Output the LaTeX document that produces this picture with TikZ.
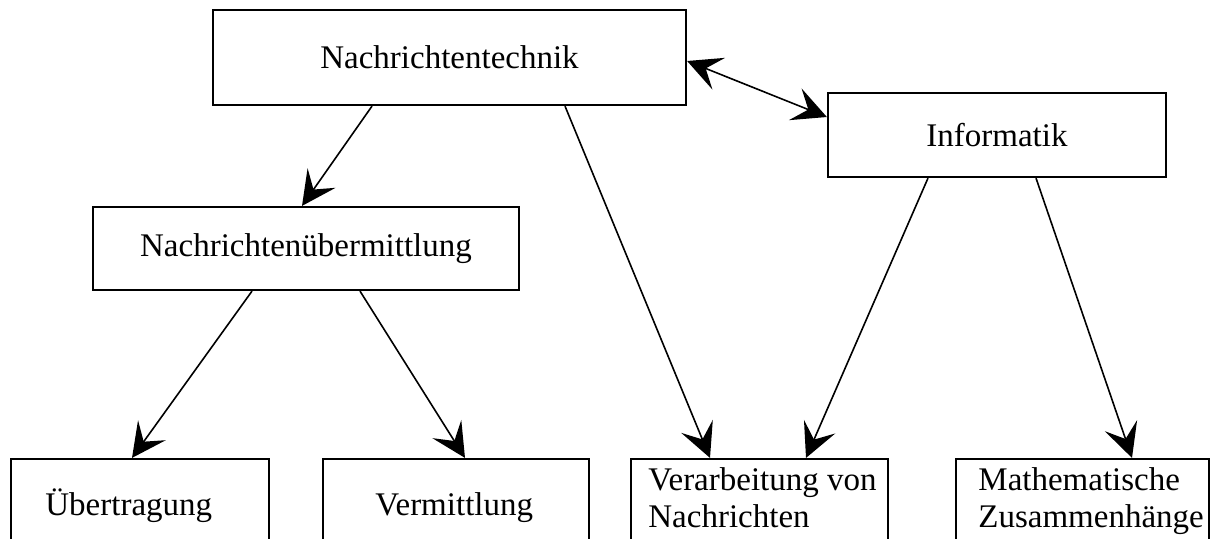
\documentclass[tikz,border=0pt]{standalone}
\usepackage{fontspec}
\setmainfont{Liberation Serif}
\usetikzlibrary{arrows.meta}
\begin{document}
\begin{tikzpicture}[x=0.5pt,y=-0.5pt,
  every node/.style={font=\fontsize{16.5}{18.5}\selectfont},
  box/.style={draw,line width=1.1pt,rectangle,inner sep=0pt},
  lbl/.style={inner sep=0pt,anchor=base west,align=left},
  tip/.tip={Stealth[length=17pt,width=17pt,inset=7pt,line width=1.2pt]},
  conn/.style={line width=0.8pt,-tip},
  dconn/.style={line width=0.8pt,tip-tip}]
\useasboundingbox (0,0) rectangle (1215,538);
\clip (0,0) rectangle (1215,538);
% top boxes
\node[box,minimum width=236.5pt,minimum height=47.5pt] (NT) at (449.5,57.5) {Nachrichtentechnik};
\node[box,minimum width=169pt,minimum height=42pt] (Inf) at (997,135) {Informatik};
\node[box,minimum width=213pt,minimum height=41.5pt] (NU) at (306,248.5) {Nachrichtenübermittlung};
% bottom boxes (open below the page edge)
\node[box,minimum width=129pt,minimum height=70.5pt] (Ub) at (140,529.5) {};
\node[box,minimum width=133pt,minimum height=70.5pt] (Ve) at (456,529.5) {};
\node[box,minimum width=128.5pt,minimum height=70.5pt] (Va) at (759.5,529.5) {};
\node[box,minimum width=126.5pt,minimum height=70.5pt] (Ma) at (1082.5,529.5) {};
% bottom texts
\node[lbl] (tUb) at (45,515) {Übertragung};
\node[lbl] (tVe) at (375,515) {Vermittlung};
\node[lbl] (tVa) at (648,527) {Verarbeitung von\\Nachrichten};
\node[lbl] (tMa) at (978,527) {Mathematische\\Zusammenhänge};
% connectors
\draw[conn] (372,0 |- NT.south) -- (302,0 |- NU.north);
\draw[conn] (252,0 |- NU.south) -- (132,0 |- Ub.north);
\draw[conn] (360,0 |- NU.south) -- (465,0 |- Ve.north);
\draw[conn] (565,0 |- NT.south) -- (710,0 |- Va.north);
\draw[conn] (928,0 |- Inf.south) -- (806,0 |- Va.north);
\draw[conn] (1036,0 |- Inf.south) -- (1132,0 |- Ma.north);
\draw[dconn] (NT.east |- 0,61) -- (Inf.west |- 0,117);
\end{tikzpicture}
\end{document}
